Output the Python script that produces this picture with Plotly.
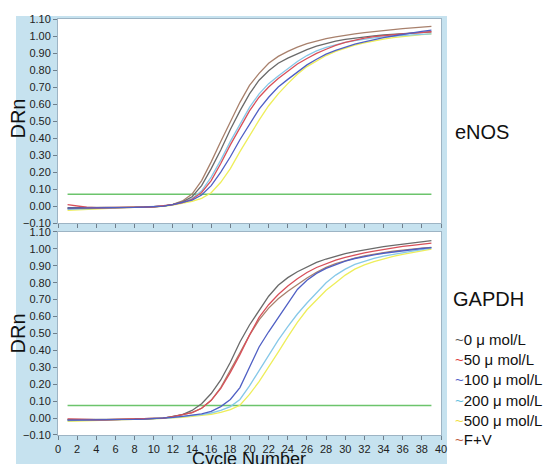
import plotly.graph_objects as go

cycles = list(range(1, 40))

# eNOS (top panel) amplification curves, cycles 1..39
enos_0 = [-0.01, -0.01, -0.01, -0.01, -0.01, -0.01, -0.009, -0.008, -0.006, -0.004,
          0.0, 0.01, 0.025, 0.055, 0.12, 0.22, 0.33, 0.45, 0.56, 0.66, 0.74, 0.795, 0.84, 0.87,
          0.895, 0.92, 0.94, 0.957, 0.97, 0.98, 0.988, 0.995, 1.001, 1.006, 1.01, 1.014, 1.018, 1.021, 1.024]
enos_50 = [0.008, 0.0, -0.007, -0.01, -0.01, -0.01, -0.009, -0.008, -0.006, -0.004,
           0.0, 0.008, 0.02, 0.04, 0.08, 0.15, 0.25, 0.36, 0.46, 0.56, 0.64, 0.70, 0.75, 0.795,
           0.835, 0.868, 0.898, 0.922, 0.945, 0.962, 0.976, 0.987, 0.996, 1.003, 1.008, 1.013, 1.017, 1.021, 1.025]
enos_100 = [-0.012, -0.012, -0.011, -0.01, -0.01, -0.01, -0.009, -0.008, -0.006, -0.004,
            0.0, 0.008, 0.02, 0.035, 0.065, 0.12, 0.20, 0.29, 0.39, 0.48, 0.57, 0.64, 0.70, 0.745,
            0.79, 0.83, 0.863, 0.893, 0.915, 0.935, 0.952, 0.966, 0.979, 0.99, 1.0, 1.01, 1.019, 1.027, 1.034]
enos_200 = [-0.02, -0.018, -0.015, -0.012, -0.01, -0.01, -0.009, -0.008, -0.006, -0.004,
            0.0, 0.008, 0.02, 0.045, 0.09, 0.17, 0.27, 0.38, 0.48, 0.58, 0.66, 0.72, 0.765, 0.81,
            0.85, 0.885, 0.912, 0.933, 0.95, 0.963, 0.973, 0.982, 0.989, 0.995, 1.0, 1.004, 1.007, 1.01, 1.012]
enos_500 = [-0.025, -0.022, -0.018, -0.014, -0.011, -0.01, -0.009, -0.008, -0.006, -0.005,
            -0.002, 0.005, 0.015, 0.028, 0.045, 0.078, 0.14, 0.22, 0.32, 0.415, 0.505, 0.59, 0.66, 0.72,
            0.775, 0.82, 0.855, 0.885, 0.91, 0.93, 0.947, 0.96, 0.972, 0.982, 0.99, 0.997, 1.003, 1.008, 1.012]
enos_fv = [-0.015, -0.013, -0.012, -0.011, -0.01, -0.01, -0.009, -0.008, -0.006, -0.004,
           0.0, 0.01, 0.03, 0.07, 0.15, 0.26, 0.38, 0.50, 0.61, 0.71, 0.78, 0.84, 0.88, 0.91,
           0.935, 0.955, 0.97, 0.985, 0.995, 1.005, 1.013, 1.02, 1.027, 1.033, 1.038, 1.043, 1.048, 1.053, 1.057]

# GAPDH (bottom panel) amplification curves, cycles 1..39
gapdh_0 = [-0.01, -0.01, -0.01, -0.01, -0.01, -0.009, -0.008, -0.006, -0.004, -0.002,
           0.0, 0.01, 0.02, 0.045, 0.085, 0.145, 0.225, 0.33, 0.45, 0.55, 0.635, 0.72, 0.785, 0.83,
           0.865, 0.895, 0.92, 0.94, 0.958, 0.972, 0.984, 0.995, 1.005, 1.013, 1.02, 1.028, 1.035, 1.042, 1.048]
gapdh_50 = [-0.005, -0.008, -0.01, -0.01, -0.01, -0.009, -0.008, -0.006, -0.004, -0.002,
            0.0, 0.008, 0.018, 0.032, 0.058, 0.105, 0.175, 0.27, 0.375, 0.49, 0.595, 0.67, 0.73, 0.78,
            0.823, 0.86, 0.89, 0.913, 0.933, 0.95, 0.964, 0.976, 0.987, 0.997, 1.006, 1.014, 1.021, 1.028, 1.034]
gapdh_100 = [-0.012, -0.012, -0.011, -0.01, -0.01, -0.01, -0.009, -0.008, -0.006, -0.004,
             -0.002, 0.004, 0.01, 0.016, 0.025, 0.04, 0.068, 0.11, 0.18, 0.30, 0.42, 0.51, 0.595, 0.68,
             0.76, 0.815, 0.855, 0.885, 0.908, 0.928, 0.943, 0.955, 0.965, 0.974, 0.982, 0.989, 0.996, 1.002, 1.007]
gapdh_200 = [-0.015, -0.014, -0.012, -0.011, -0.01, -0.01, -0.009, -0.008, -0.006, -0.004,
             -0.002, 0.003, 0.008, 0.013, 0.02, 0.03, 0.045, 0.068, 0.11, 0.19, 0.28, 0.37, 0.46, 0.54,
             0.615, 0.68, 0.74, 0.80, 0.845, 0.88, 0.908, 0.928, 0.944, 0.957, 0.968, 0.978, 0.987, 0.996, 1.004]
gapdh_500 = [-0.02, -0.018, -0.015, -0.012, -0.011, -0.01, -0.009, -0.008, -0.007, -0.005,
             -0.003, 0.0, 0.005, 0.01, 0.015, 0.022, 0.033, 0.05, 0.076, 0.14, 0.215, 0.30, 0.39, 0.48,
             0.565, 0.64, 0.70, 0.755, 0.80, 0.845, 0.88, 0.905, 0.925, 0.942, 0.956, 0.968, 0.979, 0.99, 0.999]
gapdh_fv = [-0.008, -0.01, -0.01, -0.01, -0.01, -0.009, -0.008, -0.006, -0.004, -0.002,
            0.0, 0.008, 0.018, 0.032, 0.058, 0.105, 0.18, 0.28, 0.385, 0.49, 0.58, 0.65, 0.705, 0.75,
            0.79, 0.828, 0.862, 0.89, 0.912, 0.93, 0.945, 0.958, 0.969, 0.978, 0.986, 0.993, 0.999, 1.004, 1.009]

threshold_cycles = [1, 39]
enos_threshold = [0.07, 0.07]
gapdh_threshold = [0.075, 0.075]

series_names = ["0 μ mol/L", "50 μ mol/L", "100 μ mol/L", "200 μ mol/L", "500 μ mol/L", "F+V"]
series_colors = ["#6a6a6a", "#d8505a", "#4f5fc4", "#86c8e8", "#eeee5a", "#a8806c"]
legend_tilde_colors = ["#555555", "#e03c3c", "#5060c8", "#60c0e0", "#f0e040", "#c05a3c"]

y_ticks = [round(-0.1 + 0.1 * i, 2) for i in range(13)]
x_ticks = list(range(0, 41, 2))

enos = [enos_0, enos_50, enos_100, enos_200, enos_500, enos_fv]
gapdh = [gapdh_0, gapdh_50, gapdh_100, gapdh_200, gapdh_500, gapdh_fv]
order = [4, 3, 5, 0, 1, 2]

fig = go.Figure()
fig.add_trace(go.Scatter(x=threshold_cycles, y=enos_threshold, mode="lines",
                         line=dict(color="#6cc46c", width=1.5), xaxis="x", yaxis="y", showlegend=False))
fig.add_trace(go.Scatter(x=threshold_cycles, y=gapdh_threshold, mode="lines",
                         line=dict(color="#6cc46c", width=1.5), xaxis="x2", yaxis="y2", showlegend=False))
for i in order:
    fig.add_trace(go.Scatter(x=cycles, y=enos[i], mode="lines", name=series_names[i],
                             line=dict(color=series_colors[i], width=1.3), xaxis="x", yaxis="y",
                             showlegend=False))
    fig.add_trace(go.Scatter(x=cycles, y=gapdh[i], mode="lines", name=series_names[i],
                             line=dict(color=series_colors[i], width=1.3), xaxis="x2", yaxis="y2",
                             showlegend=False))

# page body margin offsets the figure by 8px; work in window pixels
OFF = 8
W, H = 553 - OFF, 464 - OFF
PL, PR, PT, PB = 58, 441, 13, 435   # plot area edges in window pixels
L = PL - OFF
R = W - (PR - OFF)
T = PT - OFF
B = H - (PB - OFF)
pw, ph = W - L - R, H - T - B


def px(xw):
    return (xw - OFF - L) / pw


def py(yw):
    return (H - B - (yw - OFF)) / ph


axis_common = dict(showline=True, linecolor="#9db4c4", linewidth=1, mirror=True,
                   ticks="outside", ticklen=4, tickcolor="#6f7f8c", showgrid=False, zeroline=False,
                   tickfont=dict(size=11, color="#222222"))

BLUE = "#c6e2ef"
fig.update_layout(
    width=W, height=H, autosize=False,
    margin=dict(l=L, r=R, t=T, b=B),
    paper_bgcolor=BLUE, plot_bgcolor="white",
    font=dict(family="Liberation Sans, Arial, sans-serif", color="#111111"),
    xaxis=dict(domain=[0, 1], range=[0, 40], anchor="y", tickvals=x_ticks, showticklabels=False, **axis_common),
    yaxis=dict(domain=[py(220), 1], range=[-0.1, 1.1], anchor="x", tickvals=y_ticks, tickformat=".2f", **axis_common),
    xaxis2=dict(domain=[0, 1], range=[0, 40], anchor="y2", tickvals=x_ticks, **axis_common),
    yaxis2=dict(domain=[0, py(229)], range=[-0.1, 1.1], anchor="x2", tickvals=y_ticks, tickformat=".2f", **axis_common),
    showlegend=False,
)

# white surround outside the blue panel
for x0, x1, y0, y1 in [(0, 16, 0, 470), (447, 560, 0, 470), (0, 560, 0, 10)]:
    fig.add_shape(type="rect", xref="paper", yref="paper", x0=px(x0), x1=px(x1), y0=py(y1), y1=py(y0),
                  fillcolor="white", line=dict(width=0), layer="below")

annos = [
    dict(text="DRn", x=px(18), y=py(114), textangle=-90, font=dict(size=20)),
    dict(text="DRn", x=px(18), y=py(332), textangle=-90, font=dict(size=20)),
    dict(text="eNOS", x=px(453), y=py(128), xanchor="left", font=dict(size=20)),
    dict(text="GAPDH", x=px(451), y=py(297), xanchor="left", font=dict(size=20)),
    dict(text="Cycle Number", x=px(249), y=py(459), font=dict(size=18)),
]
legend_y = [338, 358.5, 379, 399.5, 420, 440]
for name, col, yy in zip(series_names, legend_tilde_colors, legend_y):
    annos.append(dict(text=f'<span style="color:{col}">~</span>{name}', x=px(453), y=py(yy),
                      xanchor="left", font=dict(size=15)))
for a in annos:
    a.setdefault("xanchor", "center")
    fig.add_annotation(xref="paper", yref="paper", showarrow=False, yanchor="middle", **a)

fig.write_html("out.html")
